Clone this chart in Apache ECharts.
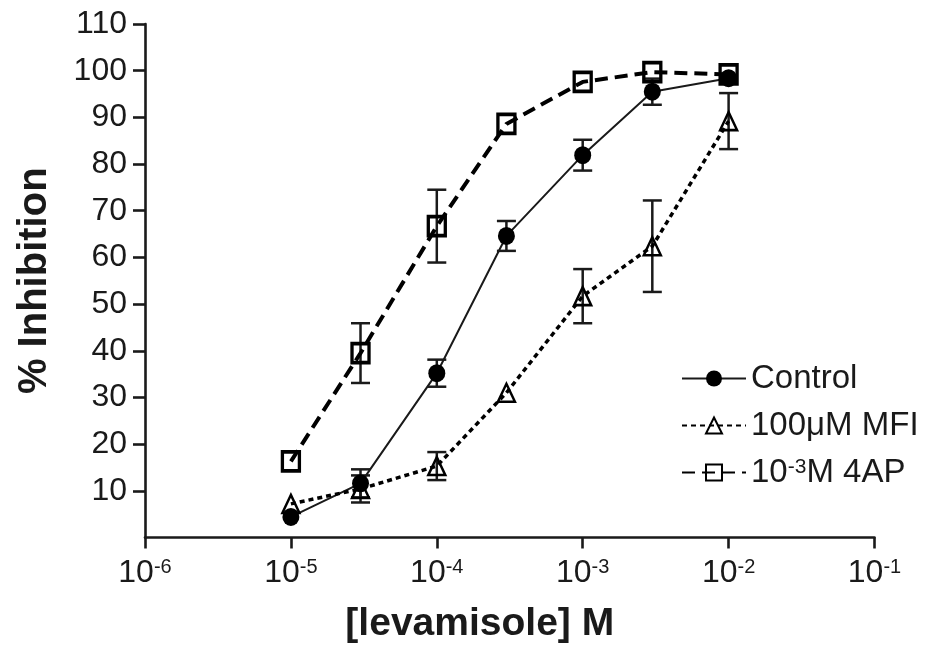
<!DOCTYPE html>
<html>
<head>
<meta charset="utf-8">
<script src="https://cdn.jsdelivr.net/npm/echarts@6/dist/echarts.min.js"></script>
<style>html,body{margin:0;padding:0;background:#fff}#c{width:930px;height:657px}</style>
</head>
<body>
<div id="c"></div>
<script>
// ---- data ----
const conc = [1e-5, 3e-5, 1e-4, 3e-4, 1e-3, 3e-3, 1e-2];
const control = [4.4, 11.6, 35.2, 64.6, 81.9, 95.5, 98.4];
const controlSem = [0, 3.0, 2.9, 3.2, 3.3, 2.8, 0];
const mfi = [7.2, 10.4, 15.3, 31.0, 51.7, 62.4, 89.2];
const mfiSem = [0, 2.9, 3.0, 0, 5.8, 9.8, 6.0];
const ap = [16.3, 39.5, 66.7, 88.6, 97.6, 99.7, 99.2];
const apSem = [0, 6.4, 7.8, 0, 0, 0, 0];
const seriesNames = ['Control', '100\u03bcM MFI', '10-3M 4AP'];
const yTicks = [10, 20, 30, 40, 50, 60, 70, 80, 90, 100, 110];

const FONT = '"Liberation Sans", Arial, Helvetica, sans-serif';
const pairs = (ys) => conc.map((x, i) => [x, ys[i]]);
const triples = (ys, es) => conc.map((x, i) => [x, ys[i], es[i]]);

function errorSeries(ys, es) {
  return {
    type: 'custom',
    z: 1,
    silent: true,
    data: triples(ys, es),
    renderItem: function (params, api) {
      const x = api.value(0), y = api.value(1), e = api.value(2);
      if (!e) return null;
      const top = api.coord([x, y + e]);
      const bot = api.coord([x, y - e]);
      const hw = 9.5;
      const st = { stroke: '#1a1a1a', lineWidth: 2.5 };
      return {
        type: 'group',
        children: [
          { type: 'line', shape: { x1: top[0], y1: top[1], x2: bot[0], y2: bot[1] }, style: st },
          { type: 'line', shape: { x1: top[0] - hw, y1: top[1], x2: top[0] + hw, y2: top[1] }, style: st },
          { type: 'line', shape: { x1: bot[0] - hw, y1: bot[1], x2: bot[0] + hw, y2: bot[1] }, style: st }
        ]
      };
    }
  };
}

const chart = echarts.init(document.getElementById('c'), null, { renderer: 'canvas' });
chart.setOption({
  animation: false,
  backgroundColor: '#fff',
  grid: { left: 145, right: 55.5, top: 24, bottom: 119.5, containLabel: false, outerBoundsMode: 'none' },
  xAxis: {
    type: 'log', logBase: 10, min: 1e-6, max: 1e-1, interval: 1,
    name: '[levamisole] M', nameLocation: 'middle', nameGap: 67,
    nameTextStyle: { fontFamily: FONT, fontSize: 39, fontWeight: 'bold', color: '#1a1a1a', padding: [0, 60, 0, 0] },
    axisLine: { lineStyle: { color: '#1a1a1a', width: 2.6 } },
    axisTick: { length: 11, lineStyle: { color: '#1a1a1a', width: 2.6 } },
    splitLine: { show: false },
    minorTick: { show: false },
    axisLabel: {
      margin: 20,
      fontFamily: FONT, fontSize: 32, color: '#1a1a1a',
      formatter: (v) => '10{s|' + Math.round(Math.log10(v)) + '}',
      rich: { s: { fontFamily: FONT, fontSize: 20, color: '#1a1a1a', verticalAlign: 'top' } }
    }
  },
  yAxis: {
    type: 'value', min: 0, max: 110, interval: 10,
    name: '% Inhibition', nameLocation: 'middle', nameGap: 90, nameRotate: 90,
    nameTextStyle: { fontFamily: FONT, fontSize: 40, fontWeight: 'bold', color: '#1a1a1a' },
    axisLine: { show: true, lineStyle: { color: '#1a1a1a', width: 2.6 } },
    axisTick: { show: true, length: 12, lineStyle: { color: '#1a1a1a', width: 2.6 },
      customValues: yTicks },
    splitLine: { show: false },
    axisLabel: {
      margin: 18, fontFamily: FONT, fontSize: 32, color: '#1a1a1a',
      customValues: yTicks,
      formatter: (v) => (v === 0 ? '' : String(v))
    }
  },
  legend: {
    orient: 'vertical', left: 676, top: 357,
    itemWidth: 64, itemHeight: 20, itemGap: 14,
    data: seriesNames,
    textStyle: {
      fontFamily: FONT, fontSize: 33, color: '#1a1a1a', lineHeight: 32,
      rich: { s: { fontFamily: FONT, fontSize: 21, color: '#1a1a1a', verticalAlign: 'top' } }
    },
    formatter: (n) => (n === '10-3M 4AP' ? '10{s|-3}M 4AP' : n)
  },
  series: [
    errorSeries(control, controlSem),
    errorSeries(mfi, mfiSem),
    errorSeries(ap, apSem),
    {
      name: seriesNames[0], type: 'line', data: pairs(control), z: 3,
      symbol: 'circle', symbolSize: [17, 18],
      itemStyle: { color: '#000', borderColor: '#000', borderWidth: 0 },
      lineStyle: { color: '#1a1a1a', width: 2, type: 'solid' }
    },
    {
      name: seriesNames[1], type: 'line', data: pairs(mfi), z: 3,
      symbol: 'triangle', symbolSize: [17, 18],
      itemStyle: { color: 'rgba(255,255,255,0)', borderColor: '#000', borderWidth: 2.5 },
      lineStyle: { color: '#000', width: 3.5, type: [5, 4] }
    },
    {
      name: seriesNames[2], type: 'line', data: pairs(ap), z: 4,
      symbol: 'rect', symbolSize: [17, 19],
      itemStyle: { color: 'rgba(255,255,255,0)', borderColor: '#000', borderWidth: 3.5 },
      lineStyle: { color: '#000', width: 4, type: [13, 7] }
    }
  ]
});
</script>
</body>
</html>
